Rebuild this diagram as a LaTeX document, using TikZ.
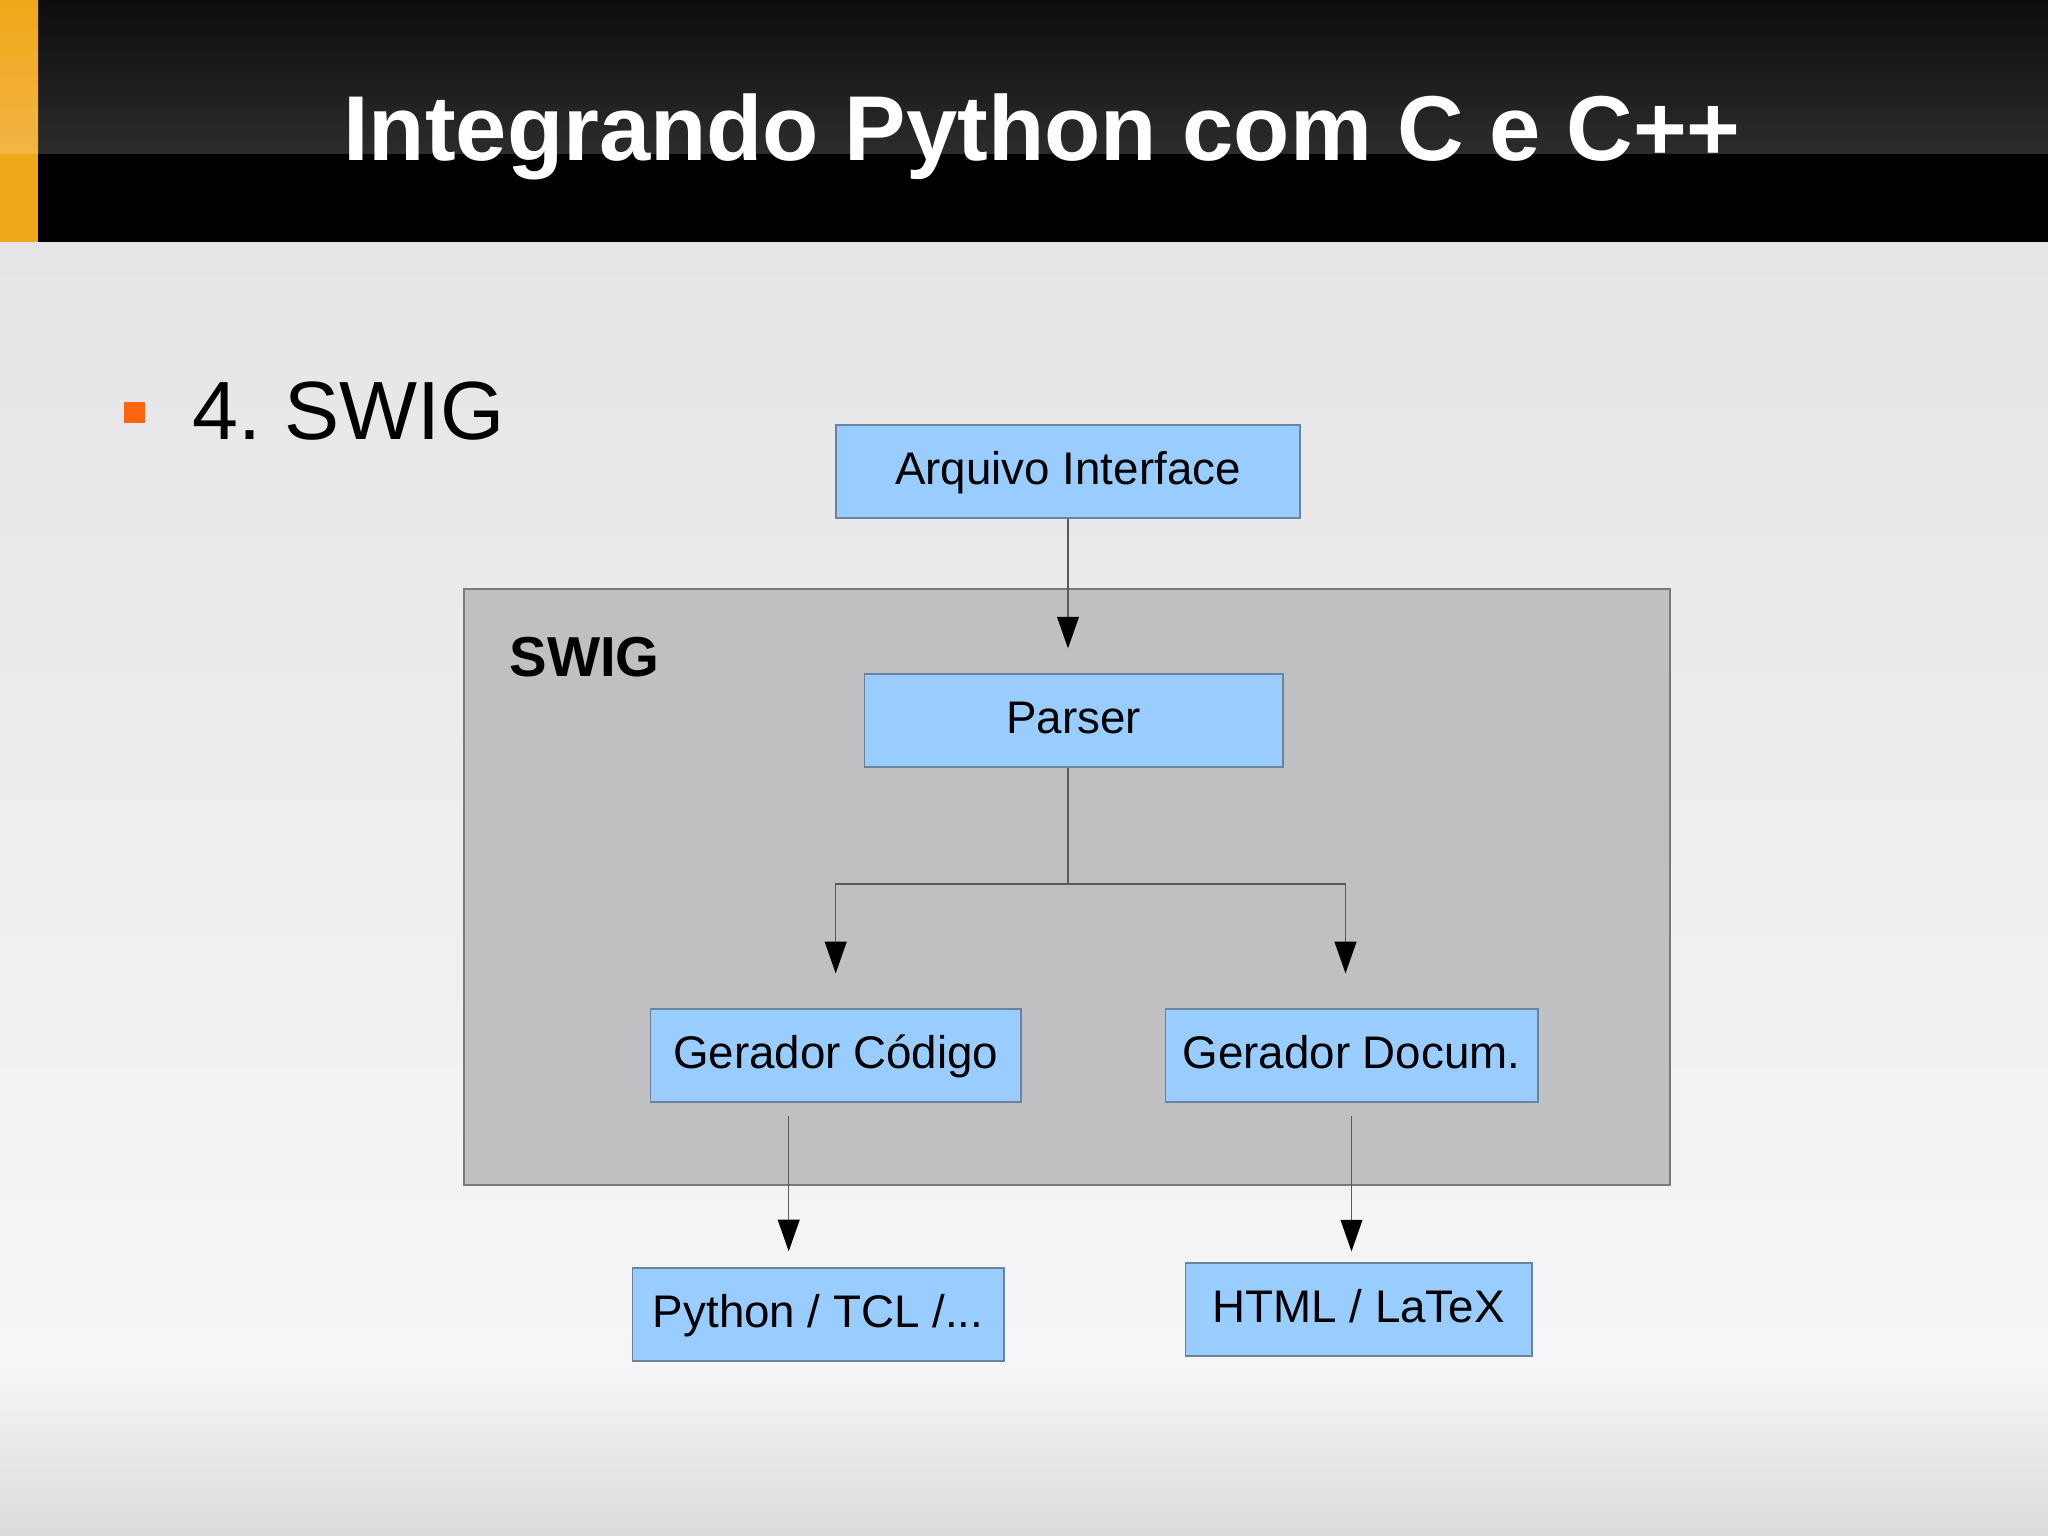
\documentclass[tikz,border=0pt]{standalone}
\usepackage{fontspec}
\setmainfont{Liberation Sans}
\usepackage{tikz}
\usetikzlibrary{arrows.meta,calc}
\usepackage{xcolor}
\definecolor{boxblue}{HTML}{99CCFF}
\definecolor{boxedge}{HTML}{6C819C}
\definecolor{swiggray}{HTML}{C0BFC2}
\definecolor{swigedge}{HTML}{7A7A7C}
\definecolor{linegray}{HTML}{5A5A5A}
\definecolor{bartop}{HTML}{0C0D0C}
\definecolor{barmid}{HTML}{2B2C2C}
\definecolor{barorange}{HTML}{F0A818}
\definecolor{baroranget}{HTML}{F3B445}
\definecolor{bullet}{HTML}{FF6410}
\definecolor{bgtop}{HTML}{E5E4E7}
\definecolor{bgmid}{HTML}{F6F6F8}
\definecolor{bgbot}{HTML}{DBDADC}
\tikzset{
	block/.style={draw=boxedge, fill=boxblue, line width=0.5pt, inner sep=0pt,
		minimum height=0.93cm, text height=0.74em, text depth=0pt,
		font=\fontsize{13}{15}\selectfont},
	flow/.style={draw=linegray, line width=0.4pt,
		-{Triangle[length=9pt,width=6.2pt,color=black]}}
}
\tikzstyle{wire}=[draw=linegray, line width=0.4pt]
\frenchspacing
\begin{document}
\begin{tikzpicture}[x=0.01cm, y=-0.01cm]
	\useasboundingbox (0,0) rectangle (2048,1535);
	\shade[top color=bgtop, bottom color=bgmid] (0,242) rectangle (2048,1365);
	\shade[top color=bgmid, bottom color=bgbot] (0,1365) rectangle (2048,1535);
%
	\fill[black] (0,0) rectangle (2048,242);
	\shade[top color=bartop, bottom color=barmid] (38,0) rectangle (2048,153);
	\fill[barorange] (0,0) rectangle (38,242);
	\shade[top color=barorange, bottom color=baroranget] (0,0) rectangle (38,153);
	\node[anchor=base, text=white, font=\fontsize{26.2}{30}\selectfont\bfseries] (title) at (1042,160) {Integrando Python com C e C++};
%
	\fill[bullet] (124,402) rectangle (145,423);
	\node[anchor=base west, inner sep=0pt, font=\fontsize{23.5}{27}\selectfont] (item) at (192,439) {4. SWIG};
%
	\filldraw[fill=swiggray, draw=swigedge, line width=0.5pt] (464,589) rectangle (1670,1185);
	\node[anchor=base west, inner sep=0pt, font=\fontsize{16}{19}\selectfont\bfseries] (swig) at (509,676) {SWIG};
%
	\node[block, minimum width=4.64cm] (arq) at (1068,471.7) {Arquivo Interface};
	\node[block, minimum width=4.18cm] (parser) at (1073.5,720.8) {Parser};
	\node[block, minimum width=3.70cm] (gcod) at (835.7,1055.8) {Gerador Código};
	\node[block, minimum width=3.72cm] (gdoc) at (1351.5,1055.8) {Gerador Docum.};
	\node[block, minimum width=3.71cm] (pyt) at (818.1,1314.7) {Python / TCL /...};
	\node[block, minimum width=3.46cm] (html) at (1358.7,1309.8) {HTML / LaTeX};
%
	\coordinate (split) at (1068,884);
	\coordinate (din) at ($(gdoc.north)+(-6,0)$);
	\coordinate (cout) at ($(gcod.south)+(-47,0)$);
	\draw[flow, shorten >=0.25cm] (arq.south) -- (arq.south |- parser.north);
	\draw[wire] (arq.south |- parser.south) -- (split);
	\draw[flow, shorten >=0.35cm] (split) -| (gcod.north);
	\draw[flow, shorten >=0.35cm] (split) -| (din);
	\draw[flow, shorten <=0.13cm, shorten >=0.16cm] (cout) -- (cout |- pyt.north);
	\draw[flow, shorten <=0.13cm, shorten >=0.11cm] (gdoc.south) -- (gdoc.south |- html.north);
\end{tikzpicture}
\end{document}
